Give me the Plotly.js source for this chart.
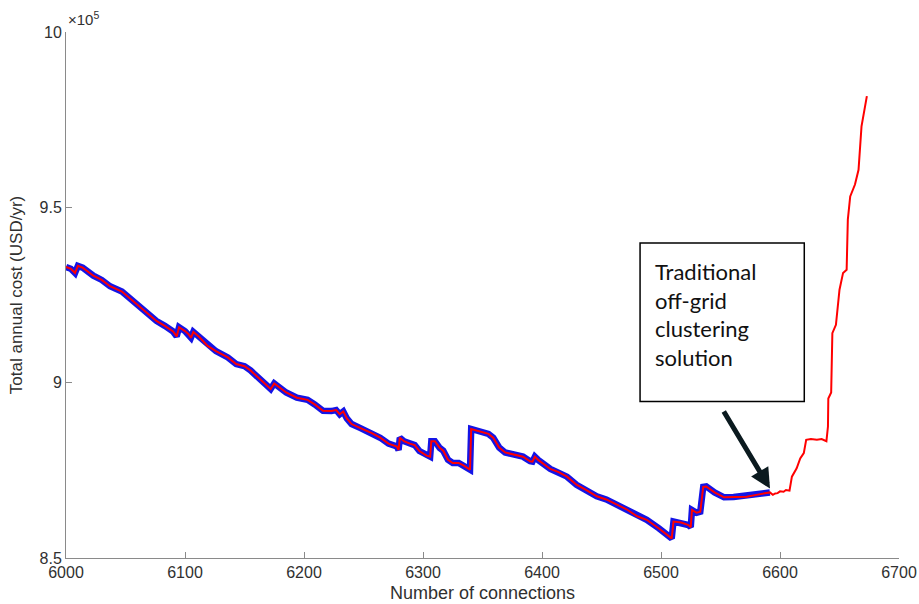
<!DOCTYPE html>
<html>
<head>
<meta charset="utf-8">
<script src="https://cdn.plot.ly/plotly-3.0.1.min.js"></script>
<style>html,body{margin:0;padding:0;background:#fff;}#chart{width:919px;height:604px;}</style>
</head>
<body>
<div id="chart"></div>
<script>
// Number of connections (x) and total annual cost in USD/yr (y)
const connections = [
  6000, 6004, 6007.6, 6010, 6014, 6019, 6023, 6030, 6037, 6047, 6055, 6062, 6069, 6076, 6083, 6090,
  6093, 6095, 6100, 6103, 6105, 6107, 6112, 6119, 6126, 6136, 6143, 6150, 6155, 6163, 6170, 6172,
  6175, 6185, 6194, 6203, 6209, 6216, 6223, 6227, 6230, 6233, 6236, 6240, 6247, 6257, 6264, 6271,
  6278, 6279.5, 6280.5, 6284, 6289, 6293, 6297, 6303, 6306, 6307, 6310, 6314, 6317, 6321, 6325, 6330,
  6334, 6339.5, 6340.5, 6348, 6355, 6359, 6364, 6369, 6377, 6384, 6390, 6392, 6394, 6397, 6407, 6414,
  6421, 6429, 6437, 6446, 6454, 6463, 6471, 6480, 6488, 6498, 6505, 6509, 6510.5, 6517, 6523, 6525,
  6526, 6530, 6533, 6535.5, 6538, 6545, 6553, 6561, 6565, 6572, 6580, 6591.5,
  6594, 6596, 6598, 6600, 6603, 6605, 6608, 6610, 6614, 6617, 6620, 6622, 6626, 6631, 6635, 6639, 6640.3, 6640.6, 6643, 6644, 6647,
  6650, 6653, 6656, 6657, 6659, 6663, 6666, 6668.5, 6673
];
const annualCost = [
  933000, 932500, 931300, 933300, 932800, 931500, 930500, 929300, 927500, 926000, 923700, 921800, 919800, 917600, 916200, 914600,
  913200, 915800, 914700, 913800, 912800, 914500, 913000, 910500, 909000, 907200, 905300, 904700, 903500, 901000, 898600, 898200,
  899800, 897200, 895700, 895100, 893800, 892000, 891900, 892200, 891000, 891800, 889800, 888200, 887100, 885600, 884300, 882600,
  881800, 880800, 884300, 883300, 882600, 882200, 880500, 879200, 878900, 883300, 883300, 881400, 880600, 878000, 877100, 877100,
  876400, 875200, 886800, 886100, 885400, 884300, 881500, 880100, 879500, 878900, 877600, 877500, 878900, 877900, 875400, 874500,
  873200, 870900, 869400, 867600, 866700, 865100, 863900, 861900, 860900, 858500, 856600, 855600, 860400, 860100, 859400, 858800,
  863700, 862900, 863200, 870300, 870400, 868700, 867300, 867400, 867600, 867500, 868000, 868700,
  868000, 868400, 868500, 869000, 868900, 869400, 869200, 873200, 875600, 878400, 879900, 883700, 883900, 883700, 883900, 883300, 887500, 895500, 897200, 914100, 916500,
  926500, 931300, 932200, 946500, 953100, 956500, 960700, 973100, 981700
];
// Traditional off-grid clustering solution ends at this number of connections
const clusteringEnd = 6591.5;

const yTickVals = [850000, 900000, 950000, 1000000];
const yTickText = ['8.5', '9', '9.5', '10'];
const xTickVals = [6000, 6100, 6200, 6300, 6400, 6500, 6600, 6700];

const blueX = [], blueY = [];
connections.forEach((c, i) => { if (c <= clusteringEnd) { blueX.push(c); blueY.push(annualCost[i]); } });

const textColor = '#303030';
const axisColor = '#8a8a8a';

const traces = [
  {x: blueX, y: blueY, mode: 'lines', line: {color: '#1414e6', width: 6.5}, hoverinfo: 'skip', showlegend: false},
  {x: connections, y: annualCost, mode: 'lines', line: {color: '#ff0000', width: 2}, showlegend: false}
];

const layout = {
  width: 919, height: 604,
  margin: {l: 66, r: 20, t: 32, b: 46},
  paper_bgcolor: '#ffffff', plot_bgcolor: '#ffffff',
  font: {family: 'Liberation Sans, Arial, sans-serif', color: textColor, size: 16},
  showlegend: false,
  xaxis: {
    range: [6000, 6700], tickvals: xTickVals, ticks: 'inside', ticklen: 6, tickcolor: axisColor,
    showline: true, linecolor: axisColor, linewidth: 1, showgrid: false, zeroline: false,
    tickfont: {size: 16, color: textColor},
    title: {text: 'Number of connections', font: {size: 18, color: textColor}, standoff: 6}
  },
  yaxis: {
    range: [850000, 1000000], tickvals: yTickVals, ticktext: yTickText, ticks: 'inside', ticklen: 6, tickcolor: axisColor,
    showline: true, linecolor: axisColor, linewidth: 1, showgrid: false, zeroline: false,
    tickfont: {size: 16, color: textColor},
    title: {text: 'Total annual cost (USD/yr)', font: {size: 17, color: textColor}, standoff: 12}
  },
  shapes: [
    {type: 'rect', xref: 'x', yref: 'y', x0: 6482.4, x1: 6620.4, y0: 894600, y1: 939800,
     line: {color: '#000000', width: 1.5}, fillcolor: 'rgba(255,255,255,0)'}
  ],
  annotations: [
    {xref: 'paper', yref: 'paper', x: 0, y: 1, xanchor: 'left', yanchor: 'bottom', yshift: 2, showarrow: false,
     text: '×10<sup>5</sup>', font: {size: 15, color: textColor}},
    {xref: 'x', yref: 'y', x: 6493, y: 936200, xanchor: 'left', yanchor: 'top', align: 'left', showarrow: false,
     text: 'Traditional<br>off-grid<br>clustering<br>solution', font: {family: 'Lato, Open Sans, sans-serif', size: 22, color: '#111111'}},
    {xref: 'x', yref: 'y', axref: 'x', ayref: 'y', x: 6591.6, y: 869800, ax: 6552, ay: 892200,
     showarrow: true, arrowhead: 2, arrowsize: 0.8, arrowwidth: 5, arrowcolor: '#0b1a1f', text: ''}
  ]
};

Plotly.newPlot('chart', traces, layout, {staticPlot: true, displayModeBar: false});
</script>
</body>
</html>
